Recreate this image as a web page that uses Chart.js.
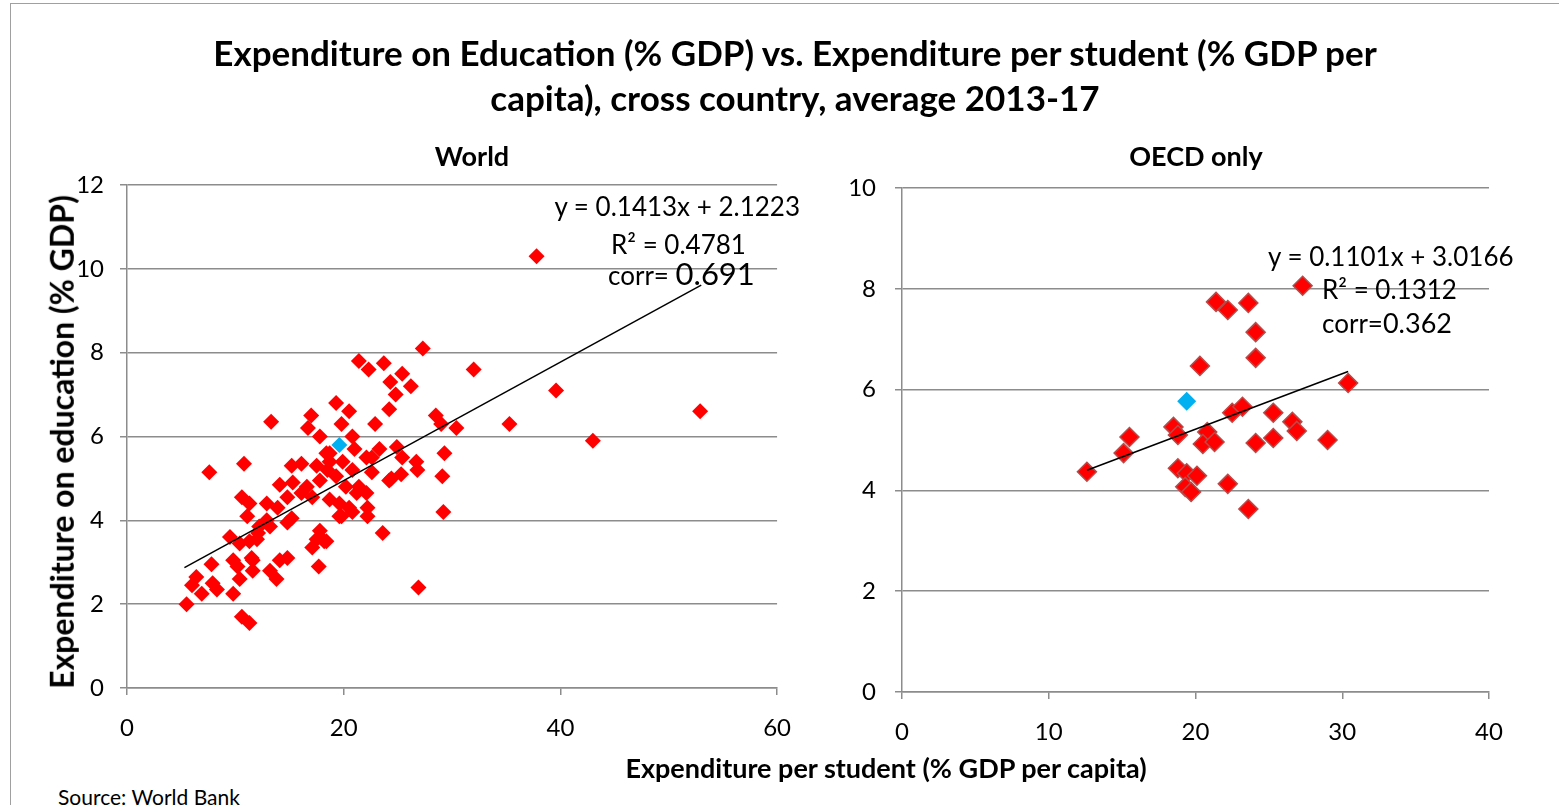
<!DOCTYPE html>
<html>
<head>
<meta charset="utf-8">
<script src="https://cdn.jsdelivr.net/npm/chart.js@4"></script>
<style>
  body { margin: 0; background: #fff; font-family: Lato, sans-serif; }
  #wrap { position: relative; width: 1559px; height: 805px; overflow: hidden; }
  #frame { position: absolute; left: 10px; top: 3px; width: 1560px; height: 820px; border: 1px solid #a0a0a0; }
  .txt { position: absolute; white-space: nowrap; color: #000; line-height: 1.2; }
  #title { left: 0; width: 1590px; top: 30px; text-align: center; font-weight: bold; font-size: 35px; line-height: 45px; }
  #c1 { position: absolute; left: 0; top: 0; }
  #c2 { position: absolute; left: 820px; top: 0; }
</style>
</head>
<body>
<div id="wrap">
  <div id="frame"></div>
  <canvas id="c1" width="810" height="760"></canvas>
  <canvas id="c2" width="739" height="760"></canvas>
  <div class="txt" id="title">Expenditure on Education (% GDP) vs. Expenditure per student (% GDP per<br>capita), cross country, average 2013-17</div>
  <div class="txt" style="left:472px; top:140px; transform:translateX(-50%); font-weight:bold; font-size:27px;">World</div>
  <div class="txt" style="left:1196px; top:140px; transform:translateX(-50%); font-weight:bold; font-size:27px;">OECD only</div>
  <div class="txt" style="left:62px; top:442px; transform:translate(-50%,-50%) rotate(-90deg); font-weight:bold; font-size:32px;">Expenditure on education (% GDP)</div>
  <div class="txt" style="left:886px; top:752px; transform:translateX(-50%); font-weight:bold; font-size:27px;">Expenditure per student (% GDP per capita)</div>
  <div class="txt" style="left:58px; top:784px; font-size:21px;">Source: World Bank</div>
  <div class="txt" style="right:759px; top:191px; font-size:26px;">y = 0.1413x + 2.1223</div>
  <div class="txt" style="left:611px; top:229px; font-size:26px;">R² = 0.4781</div>
  <div class="txt" style="left:608px; top:255px; font-size:26px;">corr= <span style="font-size:31px;">0.691</span></div>
  <div class="txt" style="left:1268px; top:241px; font-size:26px;">y = 0.1101x + 3.0166</div>
  <div class="txt" style="left:1322px; top:274px; font-size:26px;">R² = 0.1312</div>
  <div class="txt" style="left:1322px; top:307px; font-size:26px;">corr=<span style="font-size:27px;">0.362</span></div>
</div>
<script>
// World: expenditure per student (% GDP per capita) vs expenditure on education (% GDP)
const worldX = [37.8, 39.6, 43.0, 52.9, 32.0, 27.3, 35.3, 30.4, 28.5, 29.0, 29.3, 25.4, 26.2, 26.7, 29.2, 26.9, 23.6, 7.6,
  21.4, 22.3, 23.7, 24.3, 24.8, 24.2, 19.3, 20.5, 19.8, 17.0, 16.7, 17.8, 13.3, 22.9, 20.8, 18.7, 21.0, 23.3, 24.9, 25.4,
  19.9, 22.1, 26.8, 10.8, 15.2, 16.1, 17.5, 18.5, 20.8, 22.6, 24.2, 25.3, 29.1, 14.1, 15.3, 16.6, 17.8, 19.3, 20.2, 21.4,
  22.1, 10.6, 11.3, 12.9, 13.9, 14.8, 16.1, 17.1, 18.7, 19.6, 20.5, 22.2, 11.1, 14.8, 19.6, 20.8, 22.2, 12.9, 12.2, 17.8,
  9.5, 10.4, 11.3, 12.0, 17.5, 18.4, 17.1, 7.8, 10.2, 11.6, 11.6, 13.2, 13.8, 14.1, 14.8, 17.7, 6.4, 6.0, 6.9, 7.9, 8.3,
  9.8, 10.4, 5.5, 10.6, 11.3, 9.8, 12.1, 13.2, 15.2, 11.5, 18.4, 18.7, 22.6, 24.4, 21.2, 19.8, 18.2];
const worldY = [10.3, 7.1, 5.9, 6.6, 7.6, 8.1, 6.3, 6.2, 6.5, 6.3, 5.6, 7.5, 7.2, 5.4, 4.2, 2.4, 3.7, 5.15,
  7.8, 7.6, 7.75, 7.3, 7.0, 6.65, 6.8, 6.6, 6.3, 6.5, 6.2, 6.0, 6.35, 6.3, 6.0, 5.6, 5.7, 5.7, 5.75, 5.5,
  5.4, 5.5, 5.2, 5.35, 5.3, 5.35, 5.3, 5.2, 5.2, 5.15, 4.95, 5.1, 5.05, 4.85, 4.9, 4.8, 4.95, 5.05, 4.8, 4.8,
  4.65, 4.55, 4.4, 4.4, 4.3, 4.55, 4.65, 4.55, 4.5, 4.4, 4.3, 4.3, 4.1, 3.95, 4.1, 4.2, 4.1, 4.0, 3.85, 3.75,
  3.6, 3.45, 3.5, 3.55, 3.55, 3.5, 3.35, 2.95, 2.9, 3.05, 2.8, 2.8, 2.6, 3.05, 3.1, 2.9, 2.65, 2.45, 2.25, 2.5, 2.35,
  2.25, 2.6, 2.0, 1.7, 1.55, 3.05, 3.7, 3.85, 4.05, 3.1, 5.6, 5.4, 5.5, 5.0, 4.65, 4.1, 3.5];
// OECD subset
const oecdX = [12.6, 15.5, 15.1, 18.5, 18.8, 18.8, 19.4, 20.1, 19.3, 19.7, 20.3, 20.8, 20.5, 21.3, 22.5, 23.2, 22.2,
  23.6, 24.1, 25.3, 25.3, 26.6, 26.9, 29.0, 30.4, 27.3, 21.4, 22.2, 23.6, 24.1, 24.1];
const oecdY = [4.37, 5.06, 4.74, 5.26, 5.1, 4.44, 4.34, 4.29, 4.07, 3.97, 6.47, 5.16, 4.92, 4.96, 5.54, 5.66, 4.13,
  3.63, 4.94, 5.54, 5.04, 5.36, 5.18, 5.0, 6.13, 8.06, 7.74, 7.58, 7.72, 7.14, 6.63];
// highlighted country (blue) in each panel
const highlightWorld = [19.6, 5.8];
const highlightOecd = [19.4, 5.77];
// linear trend line ends
const trendWorldX = [5.3, 53.0];
const trendWorldY = [2.87, 9.61];
const trendOecdX = [12.6, 30.4];
const trendOecdY = [4.40, 6.36];
const worldTicksX = [0, 20, 40, 60];
const worldTicksY = [0, 2, 4, 6, 8, 10, 12];
const oecdTicksX = [0, 10, 20, 30, 40];
const oecdTicksY = [0, 2, 4, 6, 8, 10];

const pts = (xs, ys) => xs.map((x, i) => ({ x: x, y: ys[i] }));
const gridCol = '#8c8c8c';
const tickFont = { family: 'Lato', size: 24 };

function makeChart(id, o) {
  new Chart(document.getElementById(id), {
    type: 'scatter',
    data: {
      datasets: [
        { data: pts(o.tx, o.ty), showLine: true, borderColor: '#000', borderWidth: 1.5, pointRadius: 0 },
        { data: [{ x: o.hl[0], y: o.hl[1] }], pointStyle: 'rectRot', pointRadius: o.r,
          backgroundColor: '#00b0f0', borderColor: '#00b0f0', borderWidth: 0 },
        { data: pts(o.xs, o.ys), pointStyle: 'rectRot', pointRadius: o.r,
          backgroundColor: '#ff0000', borderColor: o.bc, borderWidth: o.bw }
      ]
    },
    options: {
      responsive: false,
      animation: false,
      events: [],
      layout: { padding: o.pad },
      plugins: { legend: { display: false }, tooltip: { enabled: false } },
      scales: {
        x: {
          min: o.xt[0], max: o.xt[o.xt.length - 1],
          afterBuildTicks: s => { s.ticks = o.xt.map(v => ({ value: v })); },
          afterFit: s => { s.height = 60; },
          grid: { drawOnChartArea: false, drawTicks: true, tickLength: 7, color: gridCol, lineWidth: 1.5 },
          border: { display: true, color: gridCol, width: 1.5 },
          ticks: { color: '#000', font: tickFont, padding: 19, maxRotation: 0 }
        },
        y: {
          min: o.yt[0], max: o.yt[o.yt.length - 1],
          afterBuildTicks: s => { s.ticks = o.yt.map(v => ({ value: v })); },
          afterFit: s => { s.width = o.yw; },
          grid: { drawTicks: true, tickLength: 7, color: gridCol, lineWidth: 1.5 },
          border: { display: true, color: gridCol, width: 1.5 },
          ticks: { color: '#000', font: tickFont, padding: o.yp }
        }
      }
    }
  });
}

makeChart('c1', {
  xs: worldX, ys: worldY, hl: highlightWorld, tx: trendWorldX, ty: trendWorldY,
  xt: worldTicksX, yt: worldTicksY, r: 8, bc: '#ff0000', bw: 0,
  pad: { left: 0, top: 185, right: 31, bottom: 12 }, yw: 127, yp: 16
});
makeChart('c2', {
  xs: oecdX, ys: oecdY, hl: highlightOecd, tx: trendOecdX, ty: trendOecdY,
  xt: oecdTicksX, yt: oecdTicksY, r: 9.5, bc: '#b94a48', bw: 1.5,
  pad: { left: 0, top: 188, right: 70, bottom: 8 }, yw: 82, yp: 19
});
</script>
</body>
</html>
